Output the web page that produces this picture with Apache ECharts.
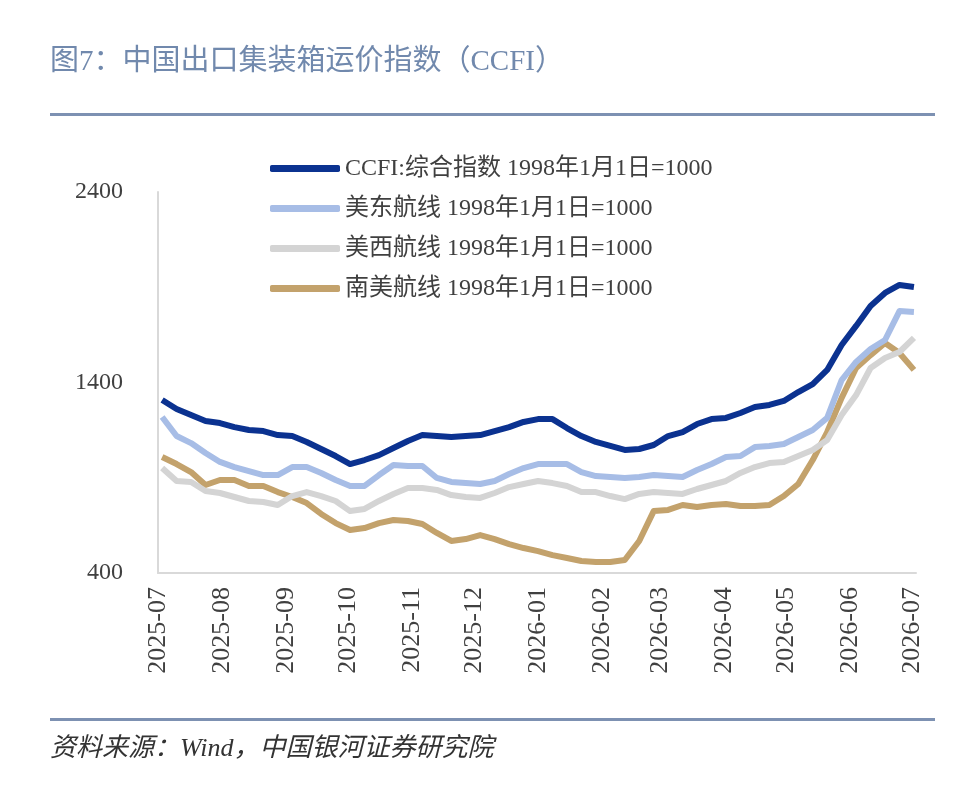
<!DOCTYPE html>
<html lang="zh-CN">
<head>
    <meta charset="UTF-8">
    <title>中国出口集装箱运价指数（CCFI）</title>
    <style>
        html, body {
            margin: 0;
            padding: 0;
            background: #ffffff;
        }
        #chart {
            width: 959px;
            height: 794px;
        }
    </style>
    <script src="https://cdn.jsdelivr.net/npm/echarts@6.0.0/dist/echarts.min.js"></script>
</head>
<body>
    <div id="chart"></div>
    <script>
        // 周度日期
        const weeks = [
            '2025-07-03', '2025-07-10', '2025-07-17', '2025-07-24', '2025-07-31',
            '2025-08-07', '2025-08-14', '2025-08-21', '2025-08-28',
            '2025-09-04', '2025-09-11', '2025-09-18', '2025-09-25',
            '2025-10-02', '2025-10-09', '2025-10-16', '2025-10-23', '2025-10-30',
            '2025-11-06', '2025-11-13', '2025-11-20', '2025-11-27',
            '2025-12-04', '2025-12-11', '2025-12-18', '2025-12-25',
            '2026-01-01', '2026-01-08', '2026-01-15', '2026-01-22', '2026-01-29',
            '2026-02-05', '2026-02-12', '2026-02-19', '2026-02-26',
            '2026-03-05', '2026-03-12', '2026-03-19', '2026-03-26',
            '2026-04-02', '2026-04-09', '2026-04-16', '2026-04-23', '2026-04-30',
            '2026-05-07', '2026-05-14', '2026-05-21', '2026-05-28',
            '2026-06-04', '2026-06-11', '2026-06-18', '2026-06-25',
            '2026-07-02'
        ];

        // 横轴月份标签
        const monthLabels = [
            '2025-07', '2025-08', '2025-09', '2025-10', '2025-11', '2025-12',
            '2026-01', '2026-02', '2026-03', '2026-04', '2026-05', '2026-06', '2026-07'
        ];

        // 纵轴刻度
        const yTicks = [400, 1400, 2400];

        const seriesNames = [
            'CCFI:综合指数 1998年1月1日=1000',
            '美东航线 1998年1月1日=1000',
            '美西航线 1998年1月1日=1000',
            '南美航线 1998年1月1日=1000'
        ];

        const ccfi = [
            1308, 1261, 1229, 1198, 1187, 1166, 1151, 1145, 1124, 1119,
            1088, 1051, 1014, 972, 993, 1019, 1056, 1093, 1124, 1119,
            1114, 1119, 1124, 1145, 1166, 1193, 1208, 1208, 1161, 1119,
            1088, 1067, 1046, 1051, 1072, 1119, 1140, 1182, 1208, 1214,
            1240, 1271, 1282, 1303, 1350, 1392, 1466, 1597, 1697, 1802,
            1870, 1912, 1901
        ];

        const usEast = [
            1219, 1119, 1082, 1030, 983, 956, 935, 914, 914, 956,
            956, 925, 888, 857, 857, 914, 967, 962, 962, 899,
            878, 872, 867, 883, 920, 951, 972, 972, 972, 930,
            909, 904, 899, 904, 914, 909, 904, 941, 972, 1009,
            1014, 1061, 1067, 1077, 1114, 1151, 1214, 1413, 1508, 1576,
            1623, 1775, 1770
        ];

        const usWest = [
            951, 883, 878, 830, 820, 799, 778, 773, 757, 804,
            825, 804, 778, 725, 736, 778, 815, 846, 846, 836,
            809, 799, 794, 820, 851, 867, 883, 872, 857, 825,
            825, 804, 788, 815, 825, 820, 815, 841, 862, 883,
            925, 956, 977, 983, 1014, 1046, 1098, 1229, 1334, 1476,
            1529, 1560, 1634
        ];

        const southAm = [
            1009, 972, 930, 862, 888, 888, 857, 857, 825, 799,
            767, 710, 662, 626, 636, 662, 678, 673, 657, 610,
            568, 578, 599, 578, 552, 531, 515, 494, 479, 463,
            458, 458, 468, 568, 725, 731, 757, 746, 757, 762,
            752, 752, 757, 804, 867, 993, 1140, 1319, 1476, 1544,
            1607, 1555, 1466
        ];

        const colors = ['#0b3290', '#a7bde6', '#d4d4d4', '#c3a26c'];
        const serifFont = '"Liberation Serif", "Noto Sans CJK SC", serif';

        const chart = echarts.init(document.getElementById('chart'));

        function toTime(s) {
            return echarts.number.parseDate(s).getTime();
        }

        function pair(values) {
            return values.map((v, i) => [toTime(weeks[i]), v]);
        }

        const monthTimes = monthLabels.map(m => toTime(m + '-01'));

        const option = {
            backgroundColor: '#ffffff',
            animation: false,
            color: colors,
            title: [
                {
                    text: '图7：中国出口集装箱运价指数（CCFI）',
                    left: 45,
                    top: 43,
                    textStyle: {
                        color: '#7189ad',
                        fontSize: 29,
                        fontWeight: 'normal',
                        fontFamily: serifFont
                    }
                },
                {
                    text: '资料来源：Wind，中国银河证券研究院',
                    left: 45,
                    top: 731,
                    textStyle: {
                        color: '#333333',
                        fontSize: 26,
                        fontStyle: 'italic',
                        fontWeight: 'normal',
                        fontFamily: serifFont
                    }
                }
            ],
            graphic: [
                {
                    type: 'rect',
                    shape: { x: 50, y: 113, width: 885, height: 3 },
                    style: { fill: '#7d91b2' }
                },
                {
                    type: 'rect',
                    shape: { x: 50, y: 718, width: 885, height: 3 },
                    style: { fill: '#7d91b2' }
                }
            ],
            legend: {
                orient: 'vertical',
                left: 265,
                top: 151,
                icon: 'roundRect',
                itemWidth: 70,
                itemHeight: 7,
                itemGap: 15,
                data: seriesNames,
                textStyle: {
                    color: '#404040',
                    fontSize: 24,
                    lineHeight: 25,
                    fontFamily: serifFont
                }
            },
            grid: {
                left: 158,
                right: 43,
                top: 192,
                bottom: 221
            },
            xAxis: {
                type: 'value',
                min: toTime('2025-07-01'),
                max: toTime('2026-07-03'),
                axisLine: { lineStyle: { color: '#d9d9d9', width: 2 } },
                axisTick: { show: false, customValues: monthTimes },
                splitLine: { show: false },
                axisLabel: {
                    customValues: monthTimes,
                    rotate: 90,
                    margin: 14,
                    color: '#404040',
                    fontSize: 26,
                    fontFamily: serifFont,
                    formatter: v => echarts.time.format(v, '{yyyy}-{MM}', false)
                }
            },
            yAxis: {
                type: 'value',
                min: yTicks[0],
                max: yTicks[yTicks.length - 1],
                interval: yTicks[1] - yTicks[0],
                axisLine: { show: true, lineStyle: { color: '#d9d9d9', width: 2 } },
                axisTick: { show: false },
                splitLine: { show: false },
                axisLabel: {
                    margin: 35,
                    color: '#404040',
                    fontSize: 24,
                    fontFamily: serifFont,
                    formatter: v => String(v)
                }
            },
            series: [ccfi, usEast, usWest, southAm].map((vals, i) => ({
                name: seriesNames[i],
                type: 'line',
                data: pair(vals),
                symbol: 'none',
                z: 10 - i,
                lineStyle: { width: 6, color: colors[i], join: 'round' }
            }))
        };

        chart.setOption(option);
        window.addEventListener('resize', () => chart.resize());
    </script>
</body>
</html>
